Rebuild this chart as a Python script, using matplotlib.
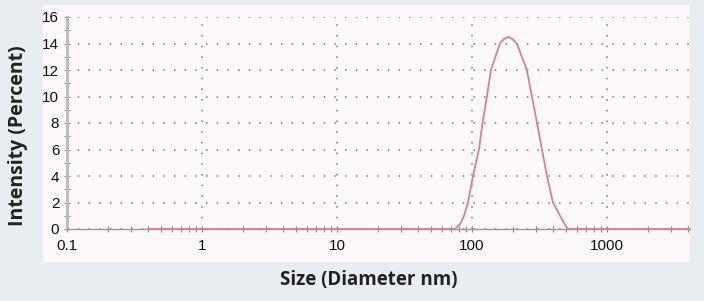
import numpy as np
import matplotlib.pyplot as plt
from matplotlib.patches import Rectangle
from matplotlib.ticker import LogLocator, FixedLocator, MultipleLocator

# Данные: размер (нм) и интенсивность (%)
size_nm = [0.4, 1, 10, 50, 74.8, 82, 87.3, 93.4, 101.7, 112.6, 119.7, 129, 138.3,
           161, 173, 188, 201, 215, 255, 278, 303, 330, 359, 398, 449, 490,
           514, 600, 1000, 4100]
intensity = [0, 0, 0, 0, 0, 0.4, 1.0, 2.0, 4.0, 6.0, 8.0, 10.0, 12.0,
             14.0, 14.35, 14.5, 14.3, 14.0, 12.0, 10.0, 8.0, 6.0, 4.0, 2.0, 1.0, 0.3,
             0, 0, 0, 0]

x_ticks = [0.1, 1, 10, 100, 1000]
x_tick_labels = ['0.1', '1', '10', '100', '1000']
y_ticks = [0, 2, 4, 6, 8, 10, 12, 14, 16]

fig = plt.figure(figsize=(7.04, 3.01), dpi=100)
fig.patch.set_facecolor('#e9edf1')

# светлая подложка под графиком
fig.patches.append(Rectangle((43 / 704, 1 - 262 / 301), (690 - 43) / 704, (262 - 5) / 301,
                             transform=fig.transFigure, facecolor='#fdf9fb',
                             edgecolor='none', zorder=-5))

ax = fig.add_axes([67 / 704, 1 - 229 / 301, (690 - 67) / 704, (229 - 17) / 301])
ax.set_facecolor('none')
ax.set_zorder(2)

ax.plot(size_nm, intensity, color='#d4848f', linewidth=1.3, zorder=3)

ax.set_xscale('log')
ax.set_xlim(0.1, 10 ** 3.615)
ax.set_ylim(0, 16)

ax.xaxis.set_major_locator(FixedLocator(x_ticks))
ax.set_xticklabels(x_tick_labels)
ax.xaxis.set_minor_locator(LogLocator(base=10, subs=np.arange(2, 10)))
ax.yaxis.set_major_locator(FixedLocator(y_ticks))
ax.yaxis.set_minor_locator(MultipleLocator(1))

ax.grid(True, which='major', color='#777777', linestyle=(0, (1, 6)), linewidth=1.1)

for side in ['top', 'right']:
    ax.spines[side].set_visible(False)
ax.spines['left'].set_color('#bdbdbd')
ax.spines['left'].set_linewidth(2.2)
ax.spines['bottom'].set_color('#9a9a9a')
ax.spines['bottom'].set_linewidth(1.0)

ax.tick_params(axis='both', which='major', length=5, width=0.8, color='#888888',
               labelsize=11, labelcolor='#111111', direction='inout')
ax.tick_params(axis='both', which='minor', length=4, width=0.8, color='#888888',
               direction='inout')
ax.tick_params(axis='x', which='major', pad=5)
ax.tick_params(axis='y', which='major', pad=3)

for lab in ax.get_xticklabels() + ax.get_yticklabels():
    lab.set_family('Liberation Sans')

ax.set_xlabel('Size (Diameter nm)', fontsize=13.5, fontweight='bold',
              family='Open Sans', color='#222222')
ax.set_ylabel('Intensity (Percent)', fontsize=14, fontweight='bold',
              family='Open Sans', color='#222222')
ax.xaxis.set_label_coords((369 - 67) / 623, -(280 - 229) / 212)
ax.yaxis.set_label_coords(-(67 - 18) / 623, (229 - 136) / 212)
ax.xaxis.label.set_va('center')
ax.yaxis.label.set_va('center')

plt.savefig('out.png', dpi=100, facecolor=fig.get_facecolor())
